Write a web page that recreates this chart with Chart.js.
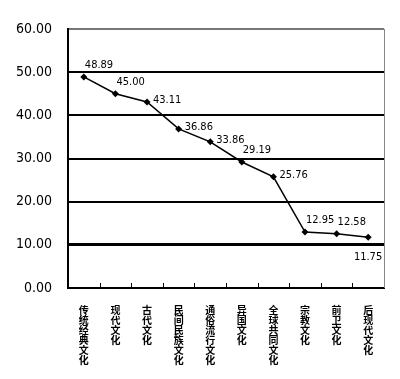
<!DOCTYPE html>
<html>
<head>
<meta charset="utf-8">
<script src="https://cdn.jsdelivr.net/npm/chart.js@4"></script>
<style>
  html, body { margin: 0; padding: 0; background: #fff; }
  #wrap { width: 400px; height: 379px; }
</style>
</head>
<body>
<div id="wrap"><canvas id="chart"></canvas></div>
<script>
const categories = ["传统经典文化", "现代文化", "古代文化", "民间民族文化", "通俗流行文化",
  "异国文化", "全球共同文化", "宗教文化", "前卫文化", "后现代文化"];
const scores = [48.89, 45.00, 43.11, 36.86, 33.86, 29.19, 25.76, 12.95, 12.58, 11.75];
const yTicks = [0, 10, 20, 30, 40, 50, 60];

// label placement per point: "up" = above right, "right" = beside, "down" = below
const labelPlace = ["up", "up", "right", "right", "right", "up", "right", "up", "up", "down"];

const numFont = "'DejaVu Sans Condensed', 'DejaVu Sans', sans-serif";

const extras = {
  id: "extras",
  afterDatasetsDraw(chart) {
    const c = chart.ctx;
    const area = chart.chartArea;
    const x = chart.scales.x;

    // right border
    c.save();
    c.strokeStyle = "#888";
    c.lineWidth = 1;
    c.beginPath();
    c.moveTo(area.right + 0.5, area.top);
    c.lineTo(area.right + 0.5, area.bottom);
    c.stroke();

    // inward tick marks on the bottom axis at category boundaries
    c.strokeStyle = "#000";
    c.lineWidth = 1;
    for (let i = 1; i < categories.length; i++) {
      const px = Math.round((x.getPixelForValue(i - 1) + x.getPixelForValue(i)) / 2) + 0.5;
      c.beginPath();
      c.moveTo(px, area.bottom);
      c.lineTo(px, area.bottom - 5);
      c.stroke();
    }

    // value labels
    const meta = chart.getDatasetMeta(0);
    c.fillStyle = "#000";
    c.font = "11px " + numFont;
    meta.data.forEach((pt, i) => {
      const txt = scores[i].toFixed(2);
      const place = labelPlace[i];
      if (place === "up") {
        c.textAlign = "left";
        c.textBaseline = "bottom";
        c.fillText(txt, pt.x + 1, pt.y - 6);
      } else if (place === "right") {
        c.textAlign = "left";
        c.textBaseline = "middle";
        c.fillText(txt, pt.x + 6, pt.y - 2);
      } else {
        c.textAlign = "right";
        c.textBaseline = "top";
        c.fillText(txt, pt.x + 14, pt.y + 14);
      }
    });
    c.restore();
  }
};

new Chart(document.getElementById("chart"), {
  type: "line",
  data: {
    labels: categories.map(s => s.split("")),
    datasets: [{
      data: scores,
      borderColor: "#000",
      borderWidth: 1.5,
      backgroundColor: "#000",
      pointStyle: "rectRot",
      pointRadius: 3.5,
      pointBorderWidth: 0,
      tension: 0
    }]
  },
  options: {
    responsive: true,
    maintainAspectRatio: false,
    animation: false,
    layout: { padding: { top: 29, right: 16, left: 0, bottom: -3 } },
    plugins: { legend: { display: false }, tooltip: { enabled: false } },
    scales: {
      x: {
        offset: true,
        grid: { display: false, drawTicks: false },
        border: { display: true, color: "#000", width: 2 },
        ticks: {
          color: "#000",
          maxRotation: 0,
          autoSkip: false,
          padding: 17,
          font: { family: "'Noto Sans CJK SC', sans-serif", size: 10, weight: "bold", lineHeight: 1.0 }
        }
      },
      y: {
        min: 0,
        max: 60,
        afterBuildTicks: scale => { scale.ticks = yTicks.map(v => ({ value: v })); },
        grid: {
          drawTicks: false,
          color: ctx => ctx.tick && ctx.tick.value === 60 ? "#777" : "#000",
          lineWidth: ctx => ctx.tick && ctx.tick.value === 10 ? 3 : 2
        },
        border: { display: true, color: "#000", width: 2 },
        ticks: {
          color: "#000",
          padding: 16,
          font: { family: numFont, size: 14 },
          callback: v => Number(v).toFixed(2)
        }
      }
    }
  },
  plugins: [extras]
});
</script>
</body>
</html>
